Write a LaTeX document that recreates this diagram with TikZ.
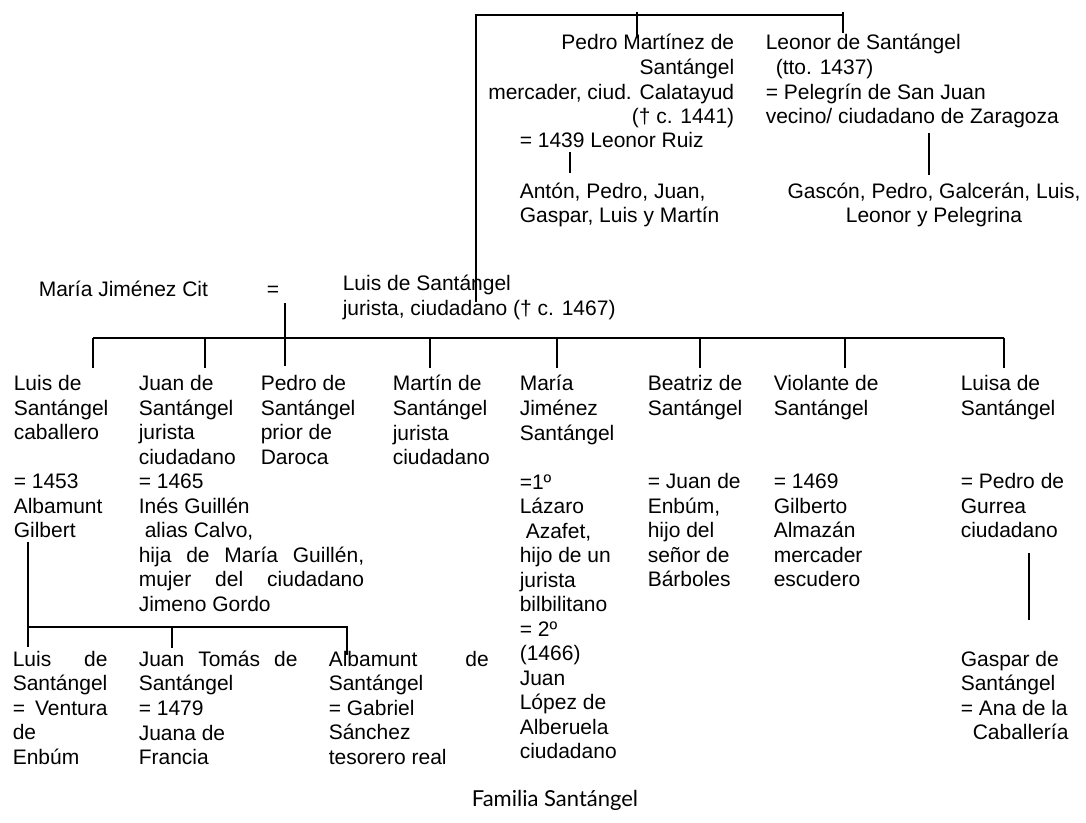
\documentclass[tikz,border=0pt]{standalone}
\usepackage{fontspec}
\setmainfont{Liberation Sans}
\newfontfamily\captionfont{Lato}

\begin{document}
\begin{tikzpicture}[x=0.75pt,y=-0.75pt,line width=1.2pt,
                    main node/.style={inner sep=0pt,anchor=north west,align=left,
                                      font=\fontsize{15.75}{18.4}\selectfont,
                                      execute at begin node=\rule{0pt}{16pt}}]
  \useasboundingbox (0,0) rectangle (1086,823);
  \node[main node,anchor=north east,align=right] (pedro) at (735,33.7)
    {Pedro Martínez de\\Santángel\hspace{26pt}\\mercader, ciud. Calatayud\\(† c. 1441)};
  \node[main node] (pedro m) at (519,125.7) {= 1439 Leonor Ruiz};
  \node[main node] (pedro h) at (519,182.2) {Antón, Pedro, Juan,\\Gaspar, Luis y Martín};
  \node[main node] (leonor) at (765,33.7)
    {Leonor de Santángel\\\hspace{7.5pt}(tto. 1437)\\= Pelegrín de San Juan\\vecino/ ciudadano de Zaragoza};
  \node[main node,anchor=north,align=center] (leonor h) at (934,182.2)
    {Gascón, Pedro, Galcerán, Luis,\\Leonor y Pelegrina};
  \node[main node] (maria) at (38,274.7) {María Jiménez Cit};
  \node[main node] (igual) at (266,274.7) {=};
  \node[main node] (luis) at (342,274.7) {Luis de Santángel\\jurista, ciudadano († c. 1467)};
  \node[main node] (c1) at (13,374.7) {Luis de\\Santángel\\caballero\\[18.4pt]= 1453\\Albamunt\\Gilbert};
  \node[main node] (c2) at (138,374.7) {Juan de\\Santángel\\jurista\\ciudadano\\= 1465\\Inés Guillén\\\hspace{4.5pt}alias Calvo,\\\makebox[169pt][s]{hija de María Guillén,}\\\makebox[169pt][s]{mujer del ciudadano}\\Jimeno Gordo};
  \node[main node] (c3) at (260,374.7) {Pedro de\\Santángel\\prior de\\Daroca};
  \node[main node] (c4) at (392,374.7) {Martín de\\Santángel\\jurista\\ciudadano};
  \node[main node] (c5) at (519,374.7) {María\\Jiménez\\Santángel\\[18.4pt]=1º\\Lázaro\\\hspace{4.5pt}Azafet,\\hijo de un\\jurista\\bilbilitano\\= 2º\\(1466)\\Juan\\López de\\Alberuela\\ciudadano};
  \node[main node] (c6) at (647,374.7) {Beatriz de\\Santángel\\[36.8pt]= Juan de\\Enbúm,\\hijo del\\señor de\\Bárboles};
  \node[main node] (c7) at (773,374.7) {Violante de\\Santángel\\[36.8pt]= 1469\\Gilberto\\Almazán\\mercader\\escudero};
  \node[main node] (c8) at (960,374.7) {Luisa de\\Santángel\\[36.8pt]= Pedro de\\Gurrea\\ciudadano};
  \node[main node] (g1) at (12,650.2) {\makebox[71pt][s]{Luis de}\\Santángel\\\makebox[71pt][s]{= Ventura}\\de\\Enbúm};
  \node[main node] (g2) at (138,650.2) {\makebox[119pt][s]{Juan Tomás de}\\Santángel\\= 1479\\Juana de\\Francia};
  \node[main node] (g3) at (328,650.2) {\makebox[120pt][s]{Albamunt de}\\Santángel\\= Gabriel\\Sánchez\\tesorero real};
  \node[main node] (g4) at (960,650.2) {Gaspar de\\Santángel\\= Ana de la\\\hspace{9pt}Caballería};
  \node[font=\captionfont\fontsize{16.5}{20}\selectfont] (titulo) at (555,800) {Familia Santángel};

  \coordinate (padre) at (476,302);
  \coordinate (tope) at (843,15);
  \coordinate (pedro t) at (637,12);
  \coordinate (leonor t) at (843,12);
  \coordinate (pedro b) at (570,152);
  \coordinate (leonor b) at (929,133);
  \coordinate (boda) at (285,303);
  \coordinate (hijos) at (93,338);
  \coordinate (hijos e) at (1004,338);
  \coordinate (luis b) at (28,542);
  \coordinate (nietos e) at (347,627);
  \coordinate (luisa b) at (1029,553);
  \draw (padre) |- (tope);
  \draw (pedro t) -- ++(0,26);
  \draw (leonor t) -- ++(0,21);
  \draw (pedro b) -- ++(0,21);
  \draw (leonor b) -- ++(0,42);
  \draw (boda) -- ++(0,63);
  \draw (hijos) -- (hijos e);
  \foreach \x in {93,205,430,557,700,845,1004}
    \draw (\x,338) -- ++(0,30);
  \draw (luis b) -- ++(0,105);
  \draw (luis b |- nietos e) -- (nietos e) -- ++(0,28);
  \draw (172,627) -- ++(0,21);
  \draw (luisa b) -- ++(0,67);
\end{tikzpicture}
\end{document}
